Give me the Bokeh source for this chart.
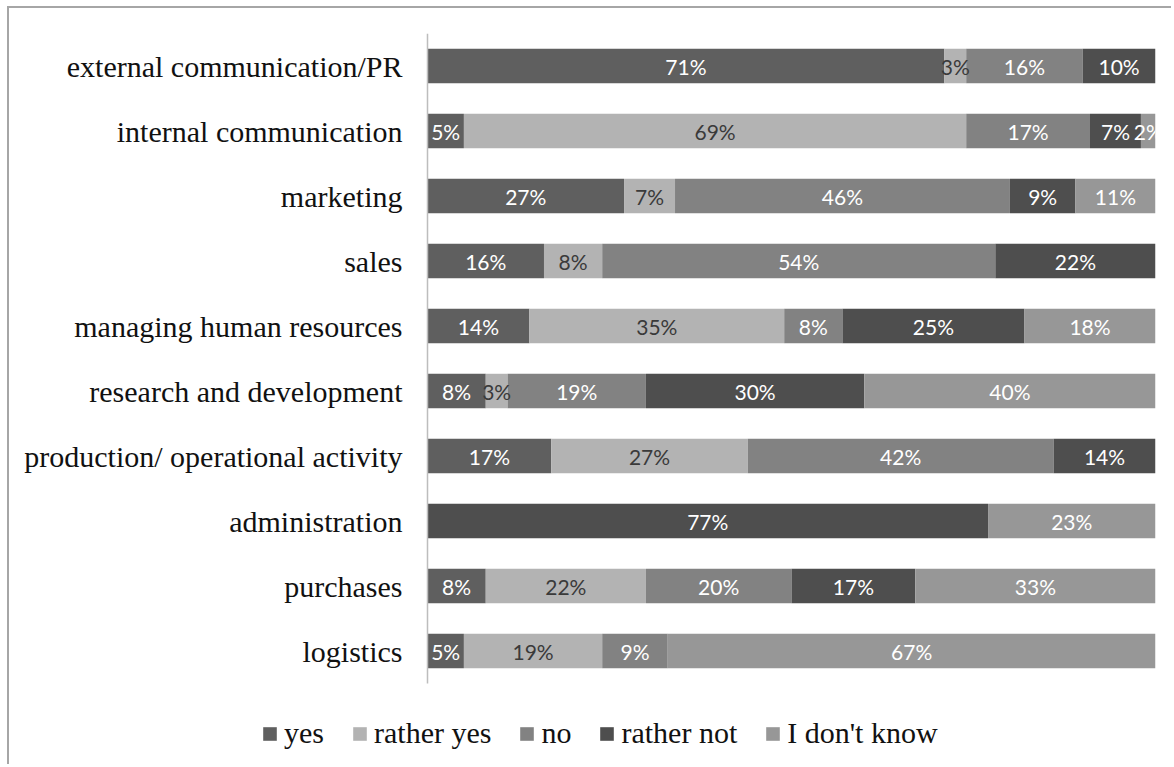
from bokeh.plotting import figure
from bokeh.models import ColumnDataSource, Legend, LegendItem, Range1d, FixedTicker
from bokeh.core.properties import value
from bokeh.embed import file_html
from bokeh.resources import INLINE

categories = ["external communication/PR", "internal communication", "marketing", "sales",
              "managing human resources", "research and development",
              "production/ operational activity", "administration", "purchases", "logistics"]
series_names = ["yes", "rather yes", "no", "rather not", "I don't know"]
yes = [71, 5, 27, 16, 14, 8, 17, 0, 8, 5]
rather_yes = [3, 69, 7, 8, 35, 3, 27, 0, 22, 19]
no = [16, 17, 46, 54, 8, 19, 42, 0, 20, 9]
rather_not = [10, 7, 9, 22, 25, 30, 14, 77, 17, 0]
dont_know = [0, 2, 11, 0, 18, 40, 0, 23, 33, 67]

colors = ["#5f5f5f", "#b3b3b3", "#828282", "#4e4e4e", "#979797"]
label_colors = ["#ffffff", "#3a3a3a", "#ffffff", "#ffffff", "#ffffff"]
keys = ["s0", "s1", "s2", "s3", "s4"]
series = [yes, rather_yes, no, rather_not, dont_know]

n = len(categories)
ypos = [n - 1 - i for i in range(n)]  # first category on top

data = {"y": ypos}
for k, s in zip(keys, series):
    data[k] = s
src = ColumnDataSource(data)

# layout (screen px): frame spans 12..1155 horizontally, value 0 sits at 427;
# categories occupy 33..683 vertically, frame continues down to 760 for the legend
ORIGIN_X, ORIGIN_Y = 9, 8
FRAME_L, ZERO_X, FRAME_R = 12, 427, 1155
FRAME_T, CAT_B, FRAME_B = 33, 683, 760
W, H = 1164, 758
x_start = -(ZERO_X - FRAME_L) / ((FRAME_R - ZERO_X) / 100.0)
px_per_cat = (CAT_B - FRAME_T) / n
y_start = -0.5 - (FRAME_B - CAT_B) / px_per_cat

p = figure(width=W, height=H, output_backend="svg", toolbar_location=None,
           y_range=Range1d(y_start, n - 0.5), x_range=Range1d(x_start, 100),
           min_border_left=FRAME_L - ORIGIN_X, min_border_right=ORIGIN_X + W - FRAME_R,
           min_border_top=FRAME_T - ORIGIN_Y, min_border_bottom=ORIGIN_Y + H - FRAME_B,
           margin=(6, 0, 0, 7))
p.styles = {"border-top": "2px solid #a6a6a6", "border-left": "2px solid #a6a6a6"}

rs = p.hbar_stack(keys, y="y", height=0.53, color=colors, source=src, line_color=None)

# labels
lx, ly, lt, lc = [], [], [], []
for i in range(n):
    left = 0
    for j, s in enumerate(series):
        v = s[i]
        if v > 0:
            lx.append(left + v / 2)
            ly.append(ypos[i])
            lt.append(f"{v}%")
            lc.append(label_colors[j])
        left += v
lsrc = ColumnDataSource(dict(x=lx, y=ly, t=lt, c=lc))
p.text(x="x", y="y", text="t", source=lsrc, text_color="c", text_align="center",
       text_baseline="middle", text_font=value("Lato"), text_font_size="21px")

p.xaxis.visible = False
p.xgrid.visible = False
p.ygrid.visible = False
p.outline_line_color = None
yax = p.yaxis[0]
yax.fixed_location = 0
yax.bounds = (-0.5, n - 0.5)
yax.ticker = FixedTicker(ticks=ypos)
yax.major_label_overrides = {y: c for y, c in zip(ypos, categories)}
yax.axis_line_color = "#bdbdbd"
yax.axis_line_width = 1.5
yax.major_tick_line_color = None
yax.minor_tick_line_color = None
yax.major_tick_out = 0
yax.major_tick_in = 0
yax.major_label_standoff = 25
yax.major_label_text_font = "Liberation Serif"
yax.major_label_text_font_size = "30px"
yax.major_label_text_color = "#111111"

legend = Legend(items=[LegendItem(label=nm, renderers=[r]) for nm, r in zip(series_names, rs)],
                orientation="horizontal", location=(261 - FRAME_L, 10), padding=0, margin=0,
                glyph_width=17, glyph_height=17, label_standoff=6, spacing=27,
                label_text_font="Liberation Serif", label_text_font_size="30px",
                label_text_color="#111111", border_line_color=None,
                background_fill_alpha=0)
p.add_layout(legend, "center")

open("out.html", "w").write(file_html(p, INLINE))
